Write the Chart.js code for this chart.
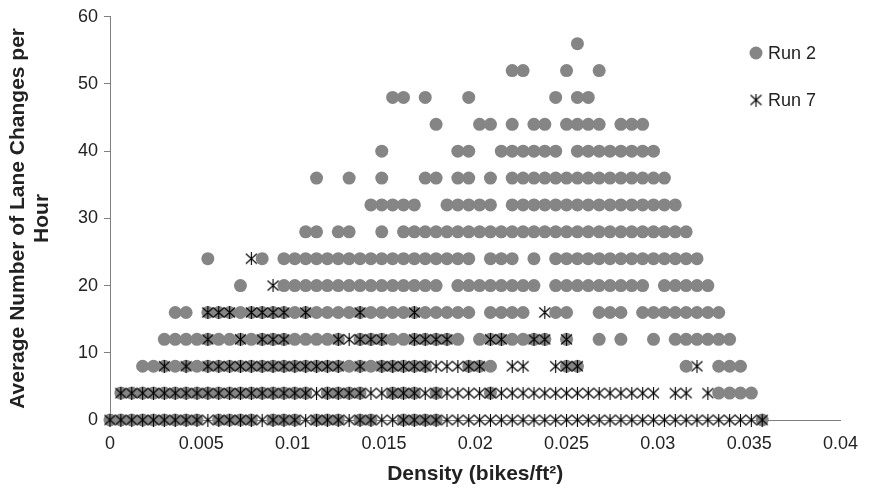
<!DOCTYPE html>
<html>
<head>
<meta charset="utf-8">
<script src="https://cdn.jsdelivr.net/npm/chart.js@4.4.1/dist/chart.umd.min.js"></script>
<style>
  html, body { margin: 0; padding: 0; background: #fff; }
</style>
</head>
<body>
<canvas id="laneChart" width="871" height="492"></canvas>
<script>
// lane changes per hour, one row of points per level
var laneChangeLevels = [0, 4, 8, 12, 16, 20, 24, 28, 32, 36, 40, 44, 48, 52, 56];

// points sit on a grid of bike counts; density = bikes / area
var areaFt2 = 1680;

// Run 2 : bike counts present in each row (same order as laneChangeLevels)
var run2Bikes = [
  [0, 1, 2, 3, 4, 5, 6, 7, 8, 10, 11, 12, 13, 15, 16, 17, 19, 20, 21, 23, 24, 27, 28, 29, 30, 60],
  [1, 2, 3, 4, 5, 6, 7, 8, 9, 10, 11, 12, 13, 14, 15, 16, 17, 18, 20, 21, 22, 23, 26, 27, 28, 30, 35, 56, 57, 58, 59],
  [3, 4, 5, 6, 7, 8, 9, 10, 11, 12, 13, 14, 15, 16, 17, 18, 19, 20, 21, 22, 23, 24, 25, 26, 27, 28, 29, 33, 34, 35, 42, 43, 53, 56, 57, 58],
  [5, 6, 7, 8, 9, 10, 11, 12, 13, 14, 15, 16, 17, 18, 19, 20, 21, 23, 24, 25, 26, 27, 28, 29, 30, 31, 32, 34, 35, 36, 37, 38, 39, 40, 42, 45, 47, 50, 52, 53, 54, 55, 56, 57],
  [6, 7, 9, 10, 11, 12, 13, 14, 15, 16, 17, 18, 19, 20, 21, 22, 23, 24, 25, 26, 27, 28, 29, 30, 31, 32, 33, 35, 36, 37, 38, 41, 42, 45, 46, 47, 49, 50, 51, 52, 53, 54, 55, 56],
  [12, 16, 17, 18, 19, 20, 21, 22, 23, 24, 25, 26, 27, 28, 29, 30, 32, 33, 34, 35, 36, 37, 38, 39, 41, 42, 43, 44, 45, 46, 47, 48, 49, 51, 52, 53, 54, 55],
  [9, 14, 16, 17, 18, 19, 20, 21, 22, 23, 24, 25, 26, 27, 28, 29, 30, 31, 32, 33, 35, 36, 37, 39, 41, 42, 43, 44, 45, 46, 47, 48, 49, 50, 51, 52, 53, 54],
  [18, 19, 21, 22, 25, 27, 28, 29, 30, 31, 32, 33, 34, 35, 36, 37, 38, 39, 40, 41, 42, 43, 44, 45, 46, 47, 48, 49, 50, 51, 52, 53],
  [24, 25, 26, 27, 28, 31, 32, 33, 34, 35, 37, 38, 39, 40, 41, 42, 43, 44, 45, 46, 47, 48, 49, 50, 51, 52],
  [19, 22, 25, 29, 30, 32, 33, 35, 37, 38, 39, 40, 41, 42, 43, 44, 45, 46, 47, 48, 49, 50, 51],
  [25, 32, 33, 36, 37, 38, 39, 40, 41, 43, 44, 45, 46, 47, 48, 49, 50],
  [30, 34, 35, 37, 39, 40, 42, 43, 44, 45, 47, 48, 49],
  [26, 27, 29, 33, 41, 43, 44],
  [37, 38, 42, 45],
  [43]
];

// Run 7
var run7Bikes = [
  [0, 1, 2, 3, 4, 5, 6, 7, 8, 9, 10, 11, 12, 13, 14, 15, 16, 17, 18, 19, 20, 21, 22, 23, 24, 25, 26, 27, 28, 29, 30, 31, 32, 33, 34, 35, 36, 37, 38, 39, 40, 41, 42, 43, 44, 45, 46, 47, 48, 49, 50, 51, 52, 53, 54, 55, 56, 57, 58, 59, 60],
  [1, 2, 3, 4, 5, 6, 7, 8, 9, 10, 11, 12, 13, 14, 15, 16, 17, 18, 19, 20, 21, 22, 23, 24, 25, 26, 27, 28, 29, 30, 31, 32, 33, 34, 35, 36, 37, 38, 39, 40, 41, 42, 43, 44, 45, 46, 47, 48, 49, 50, 52, 53, 55],
  [5, 7, 9, 10, 11, 12, 13, 14, 15, 16, 17, 18, 19, 20, 21, 23, 25, 26, 27, 28, 29, 30, 31, 32, 33, 34, 37, 38, 41, 42, 43, 54],
  [9, 12, 14, 15, 16, 21, 22, 23, 24, 25, 28, 29, 30, 31, 35, 36, 39, 40, 42],
  [9, 10, 11, 13, 14, 15, 16, 18, 23, 28, 40],
  [15],
  [13],
  [], [], [], [], [], [], [], []
];

var seriesNames = ["Run 2", "Run 7"];
var xTickValues = [0, 0.005, 0.01, 0.015, 0.02, 0.025, 0.03, 0.035, 0.04];
var yTickValues = [0, 10, 20, 30, 40, 50, 60];

function toPoints(rows) {
  var pts = [];
  rows.forEach(function (bikes, i) {
    bikes.forEach(function (b) {
      pts.push({ x: b / areaFt2, y: laneChangeLevels[i] });
    });
  });
  return pts;
}

// excel style asterisk: vertical bar plus an x
function makeAsterisk(size) {
  var c = document.createElement('canvas');
  c.width = size;
  c.height = size;
  var g = c.getContext('2d');
  var m = size / 2;
  g.strokeStyle = '#000';
  g.lineWidth = 1.1;
  g.beginPath();
  g.moveTo(m, 0);
  g.lineTo(m, size);
  g.moveTo(1, 1.5);
  g.lineTo(size - 1, size - 1.5);
  g.moveTo(size - 1, 1.5);
  g.lineTo(1, size - 1.5);
  g.stroke();
  return c;
}
var asterisk = makeAsterisk(13);
var dotColor = '#858585';

// legend stacked at top right, like the original
var sideLegend = {
  id: 'sideLegend',
  afterDraw: function (chart) {
    var ctx = chart.ctx;
    var x = 756, ys = [53, 100];
    ctx.save();
    ctx.font = '18px "Liberation Sans", Arial, sans-serif';
    ctx.textBaseline = 'middle';
    chart.data.datasets.forEach(function (ds) {
      var idx = seriesNames.indexOf(ds.label);
      var y = ys[idx];
      if (ds.pointStyle === 'circle') {
        ctx.beginPath();
        ctx.arc(x, y, 6.5, 0, Math.PI * 2);
        ctx.fillStyle = ds.backgroundColor;
        ctx.fill();
      } else {
        ctx.drawImage(ds.pointStyle, x - 6.5, y - 6.5);
      }
      ctx.fillStyle = '#222';
      ctx.fillText(ds.label, x + 12, y + 1);
    });
    ctx.restore();
  }
};

Chart.defaults.font.family = '"Liberation Sans", Arial, sans-serif';
Chart.defaults.color = '#222';

var ctx = document.getElementById('laneChart');
var laneChart = new Chart(ctx, {
  type: 'scatter',
  data: {
    datasets: [
      {
        label: seriesNames[0],
        data: toPoints(run2Bikes),
        pointStyle: 'circle',
        backgroundColor: dotColor,
        borderWidth: 0,
        pointRadius: 6.5,
        pointHoverRadius: 6.5,
        clip: false,
        order: 2
      },
      {
        label: seriesNames[1],
        data: toPoints(run7Bikes),
        pointStyle: asterisk,
        pointRadius: 6.5,
        clip: false,
        order: 1
      }
    ]
  },
  options: {
    responsive: false,
    animation: false,
    devicePixelRatio: 1,
    layout: { padding: { top: 15, right: 23, bottom: 0, left: 0 } },
    plugins: {
      legend: { display: false },
      tooltip: { enabled: false }
    },
    scales: {
      x: {
        type: 'linear',
        min: 0,
        max: 0.04,
        afterFit: function (s) { s.height = 72; },
        afterBuildTicks: function (s) {
          s.ticks = xTickValues.map(function (v) { return { value: v }; });
        },
        ticks: {
          padding: 13,
          font: { size: 18 },
          callback: function (v) { return String(+v.toFixed(3)); }
        },
        grid: { display: true, drawOnChartArea: false, drawTicks: false },
        border: { color: '#7f7f7f', width: 1 },
        title: {
          display: true,
          text: 'Density (bikes/ft\u00B2)',
          font: { size: 21, weight: 'bold', lineHeight: 1.15 },
          padding: { top: 0, bottom: 6 }
        }
      },
      y: {
        min: 0,
        max: 60,
        afterFit: function (s) { s.width = 110; },
        afterBuildTicks: function (s) {
          s.ticks = yTickValues.map(function (v) { return { value: v }; });
        },
        ticks: { padding: 6, font: { size: 18 } },
        grid: { drawOnChartArea: false, drawTicks: true, tickLength: 6, color: '#7f7f7f' },
        border: { color: '#7f7f7f', width: 1 },
        title: {
          display: true,
          text: ['Average Number of Lane Changes per', 'Hour'],
          font: { size: 21, weight: 'bold', lineHeight: 1.15 },
          padding: { top: 6, bottom: 0 }
        }
      }
    }
  },
  plugins: [sideLegend]
});
</script>
</body>
</html>
